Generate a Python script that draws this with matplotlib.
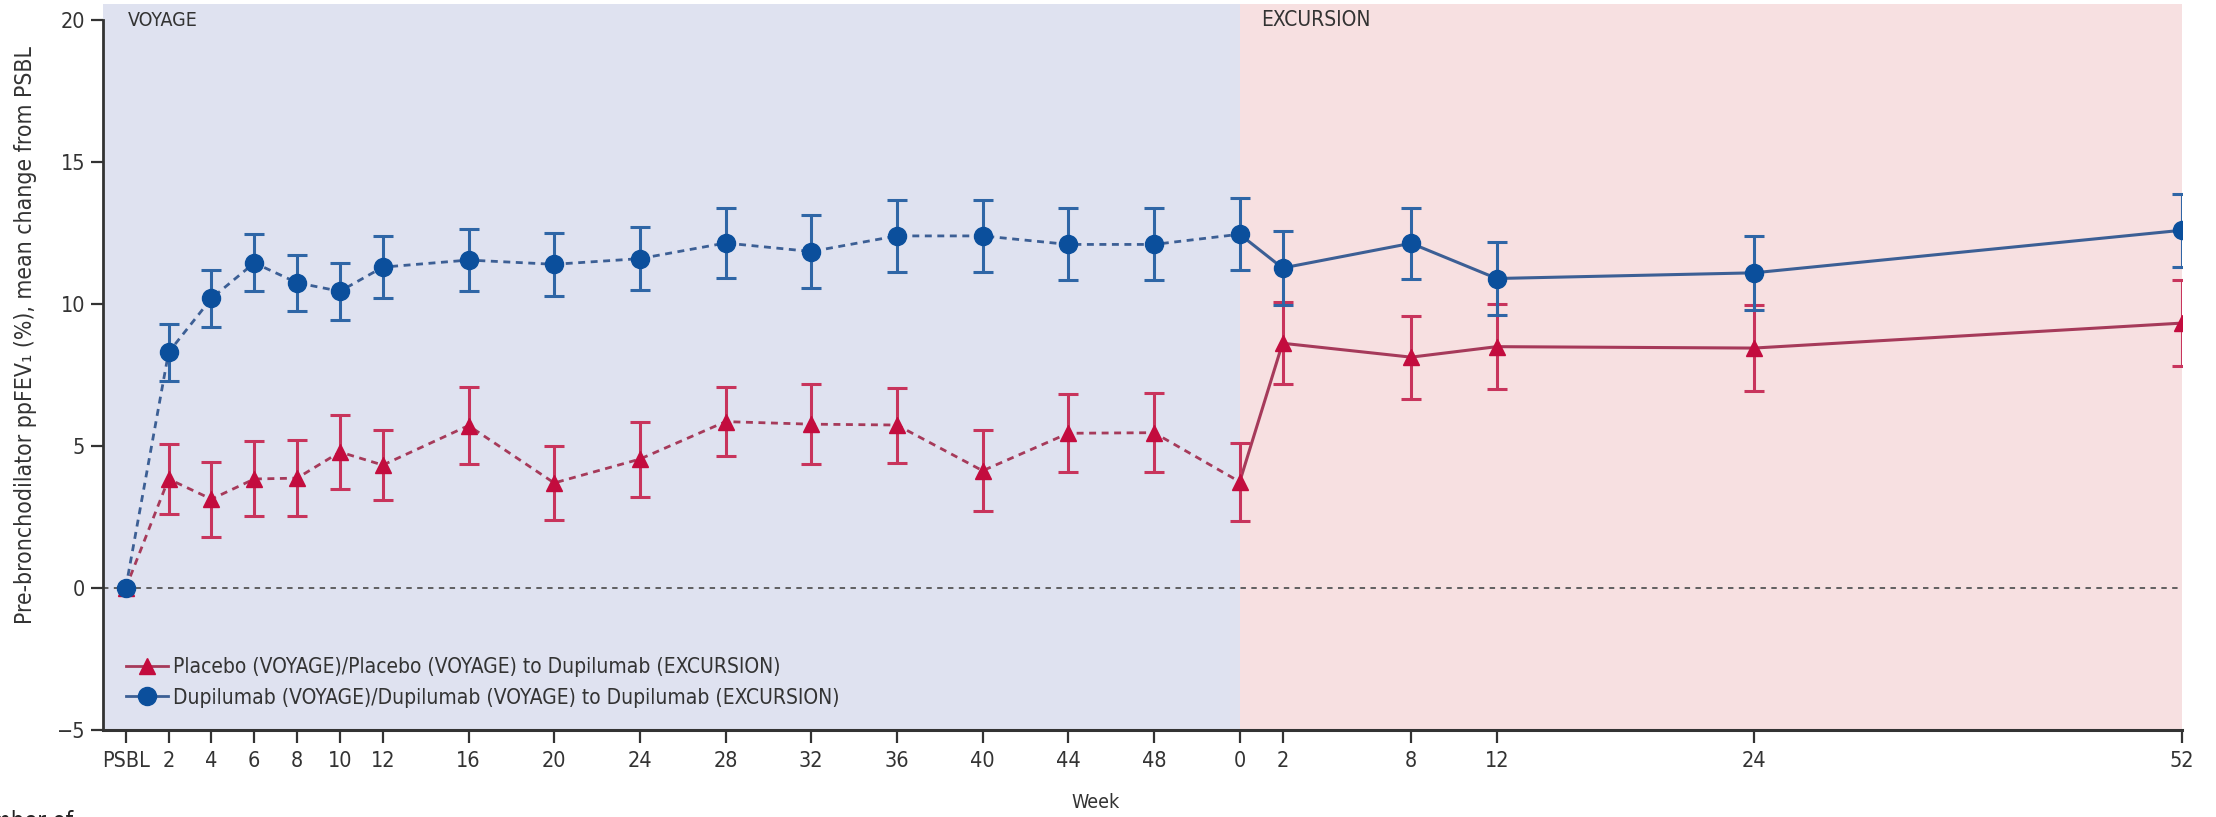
import numpy as np
import matplotlib
matplotlib.use("Agg")
import matplotlib.pyplot as plt
from matplotlib.lines import Line2D

plt.rcParams['font.family'] = ['DejaVu Sans']
plt.rcParams['font.stretch'] = 'condensed'

# weeks of each study phase (PSBL = week 0 of VOYAGE)
voyage_weeks = [0, 2, 4, 6, 8, 10, 12, 16, 20, 24, 28, 32, 36, 40, 44, 48]
excursion_weeks = [0, 2, 8, 12, 24, 52]
voyage_labels = ["PSBL"] + [str(w) for w in voyage_weeks[1:]]
excursion_labels = [str(w) for w in excursion_weeks]

# mean change from PSBL and error bar half-widths
dupi_voyage = [0, 8.3, 10.2, 11.45, 10.75, 10.45, 11.3, 11.55, 11.4, 11.6,
               12.15, 11.85, 12.4, 12.4, 12.1, 12.1]
dupi_voyage_err = [0, 1.0, 1.0, 1.0, 0.98, 1.0, 1.09, 1.1, 1.1, 1.1,
                   1.22, 1.27, 1.28, 1.28, 1.27, 1.27]
dupi_excursion = [12.46, 11.27, 12.14, 10.9, 11.1, 12.6]
dupi_excursion_err = [1.27, 1.29, 1.25, 1.28, 1.3, 1.28]

plac_voyage = [0, 3.84, 3.13, 3.84, 3.87, 4.79, 4.33, 5.72, 3.7, 4.54,
               5.86, 5.77, 5.74, 4.13, 5.45, 5.47]
plac_voyage_err = [0, 1.22, 1.32, 1.32, 1.33, 1.3, 1.24, 1.35, 1.3, 1.32,
                   1.22, 1.4, 1.32, 1.42, 1.38, 1.4]
plac_excursion = [3.74, 8.62, 8.13, 8.5, 8.45, 9.33]
plac_excursion_err = [1.38, 1.44, 1.46, 1.5, 1.5, 1.5]


def voyage_pos(w):
    return np.asarray(w, dtype=float)


def excursion_pos(w):
    # EXCURSION starts after week 52 of VOYAGE; the last stretch (24-52) is compressed
    w = np.asarray(w, dtype=float)
    return np.where(w <= 24, 52 + w, 76 + (w - 24) * 0.714)


vx = voyage_pos(voyage_weeks)
ex = excursion_pos(excursion_weeks)

BLUE = "#0b4f9c"
BLUE_BAR = "#2f66a6"
BLUE_LINE = "#3c5f95"
RED = "#c30c3e"
RED_BAR = "#c8345c"
RED_LINE = "#a63a5a"

fig = plt.figure(figsize=(22.16, 8.17), dpi=100)
ax = fig.add_axes([0.0465, 0.1065, 0.9382, 0.888])

xmin, xmax = -1.06, ex[-1]
ax.set_xlim(xmin, xmax)
ax.set_ylim(-5, 20.55)

# phase shading
ax.axvspan(xmin, ex[0], color="#dfe2f0", zorder=0, lw=0)
ax.axvspan(ex[0], xmax, color="#f7e0e1", zorder=0, lw=0)
ax.axhline(0, color="#555555", lw=1.3, ls=(0, (3, 3)), zorder=1)

ax.text(0.1, 20, "VOYAGE", fontsize=14, va="center", ha="left", color="#333333")
ax.text(53.0, 20, "EXCURSION", fontsize=15, va="center", ha="left", color="#333333")

for vy, verr, ey, eerr, mk, mc, bc, lc, ms in [
        (plac_voyage, plac_voyage_err, plac_excursion, plac_excursion_err, "^", RED, RED_BAR, RED_LINE, 12),
        (dupi_voyage, dupi_voyage_err, dupi_excursion, dupi_excursion_err, "o", BLUE, BLUE_BAR, BLUE_LINE, 13)]:
    # dashed during VOYAGE, solid during EXCURSION
    ax.plot(np.append(vx, ex[0]), np.append(vy, ey[0]), color=lc, lw=2, ls=(0, (2.5, 2)), zorder=3)
    ax.plot(ex, ey, color=lc, lw=2.2, zorder=3)
    ax.errorbar(vx[1:], vy[1:], yerr=verr[1:], fmt="none", ecolor=bc, elinewidth=2.2,
                capsize=7, capthick=2.2, zorder=4)
    ax.errorbar(ex, ey, yerr=eerr, fmt="none", ecolor=bc, elinewidth=2.2,
                capsize=7, capthick=2.2, zorder=4)
    ax.plot(np.append(vx, ex), np.append(vy, ey), ls="none", marker=mk, ms=ms,
            color=mc, mec=mc, zorder=5)

# axes styling
for s in ["top", "right"]:
    ax.spines[s].set_visible(False)
ax.spines["left"].set_bounds(-5, 20)
ax.spines["left"].set_linewidth(2)
ax.spines["bottom"].set_linewidth(2.2)
ax.spines["left"].set_color("#333333")
ax.spines["bottom"].set_color("#333333")

ax.set_yticks([-5, 0, 5, 10, 15, 20])
ax.set_yticklabels(["\u22125", "0", "5", "10", "15", "20"])
ax.set_xticks(np.append(vx, ex))
ax.set_xticklabels(voyage_labels + excursion_labels)
ax.tick_params(axis="both", direction="out", length=9, width=1.6, color="#333333",
               labelsize=15.5, labelcolor="#333333")
ax.tick_params(axis="y", pad=4)
ax.tick_params(axis="x", pad=6)

fig.text(0.0117, 0.59, "Pre-bronchodilator ppFEV\u2081 (%), mean change from PSBL",
         rotation=90, ha="center", va="center", fontsize=16.5, color="#333333")
fig.text(0.4946, 0.018, "Week", ha="center", va="center", fontsize=14, color="#333333")
fig.text(0.033, -0.006, "Number of", ha="right", va="center", fontsize=17, color="#222222")

handles = [
    Line2D([], [], color=RED_LINE, lw=2, marker="^", ms=12, mfc=RED, mec=RED),
    Line2D([], [], color=BLUE_LINE, lw=2, marker="o", ms=13, mfc=BLUE, mec=BLUE),
]
labels = ["Placebo (VOYAGE)/Placebo (VOYAGE) to Dupilumab (EXCURSION)",
          "Dupilumab (VOYAGE)/Dupilumab (VOYAGE) to Dupilumab (EXCURSION)"]
ax.legend(handles, labels, loc="lower left", bbox_to_anchor=(0.002, 0.005), frameon=False,
          fontsize=15, handlelength=2.0, handletextpad=0.25, labelspacing=0.5,
          labelcolor="#333333")

fig.savefig("out.png", dpi=100)
